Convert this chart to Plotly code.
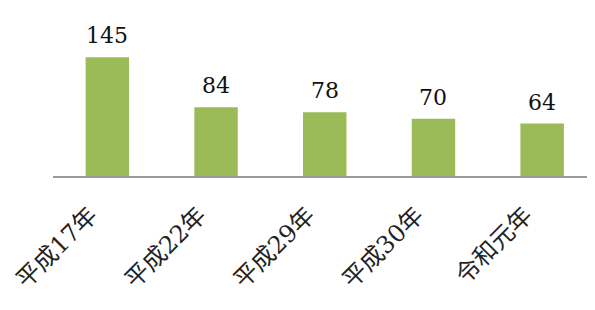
import plotly.graph_objects as go

categories = ["平成17年", "平成22年", "平成29年", "平成30年", "令和元年"]
values = [145, 84, 78, 70, 64]

BAR_COLOR = "#9BBB59"
# the page body adds an 8px margin, so the figure is 8px smaller than the window
W, H = 587, 302
ML, MR, MT, MB = 45, 0, 0, 134
plot_w = W - ML - MR
plot_h = H - MT - MB

fig = go.Figure()
fig.add_trace(go.Bar(
    x=categories, y=values,
    marker=dict(color=BAR_COLOR, line=dict(width=0)),
    hoverinfo="skip",
))

for c, v in zip(categories, values):
    fig.add_annotation(
        x=c, y=v, text=str(v), showarrow=False,
        yanchor="bottom", xanchor="center", yshift=7,
        font=dict(family="DejaVu Serif", size=22, color="#111111"),
    )

fig.update_layout(
    width=W, height=H,
    margin=dict(l=ML, r=MR, t=MT, b=MB, autoexpand=False),
    paper_bgcolor="white", plot_bgcolor="white",
    bargap=0.6, showlegend=False,
    xaxis=dict(
        range=[-0.5, -0.5 + plot_w / 108.7],
        automargin=False,
        showline=True, linecolor="#9a9a9a", linewidth=1.5,
        showgrid=False, ticks="", tickangle=-45,
        ticklabelstandoff=14, ticklabelshift=-17,
        tickfont=dict(family="DejaVu Serif, Noto Sans CJK JP", size=24, color="#222222"),
    ),
    yaxis=dict(range=[0, plot_h / 0.8186], visible=False, showgrid=False,
               zeroline=False, automargin=False),
)

fig.write_html("out.html")
